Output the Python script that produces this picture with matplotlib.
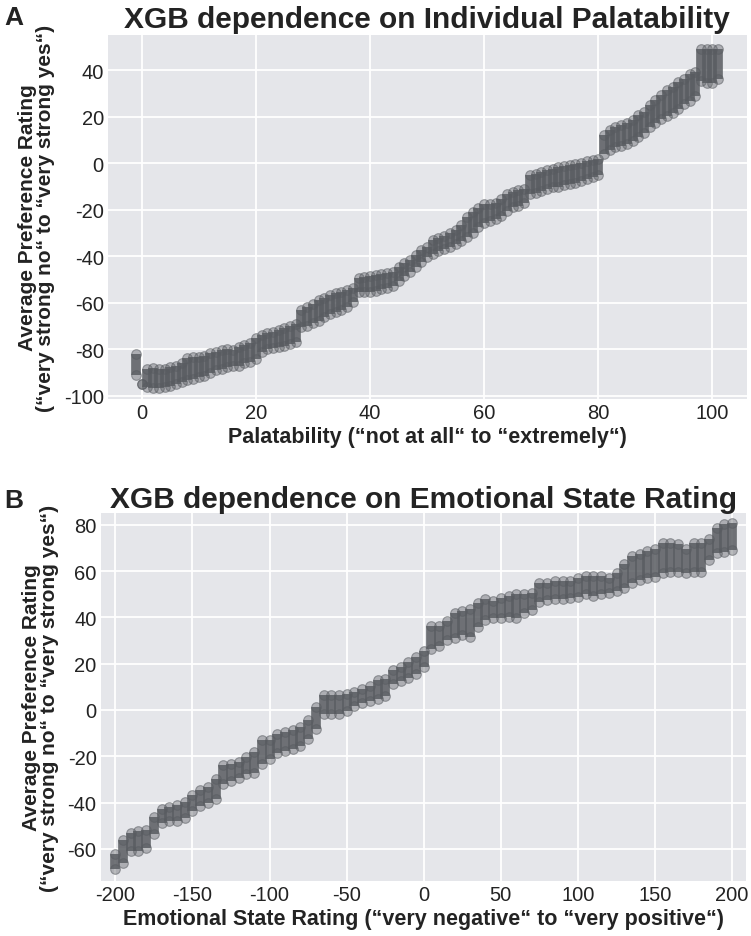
"""XGB partial dependence plots for palatability and emotional state rating."""
import matplotlib
matplotlib.use("Agg")
import matplotlib.pyplot as plt

plt.rcParams["font.family"] = ["Liberation Sans", "DejaVu Sans"]
plt.rcParams["axes.unicode_minus"] = False

# Panel A: one column of points per palatability value (upper / lower point centres)
palat_x = [-1, 0] + list(range(1, 102))
palat_hi = [-82.0, -95.0,
            -88.4, -88.1, -88.4, -88.4, -87.8, -87.0, -86.0, -83.8, -83.5, -83.5,
            -83.1, -81.7, -81.0, -80.3, -79.8, -80.3, -79.2, -78.1, -77.4, -75.2,
            -73.8, -73.1, -72.7, -71.7, -70.9, -70.2, -69.2, -63.1, -62.0, -60.6,
            -58.8, -57.8, -56.6, -55.9, -55.2, -54.5, -53.7, -49.4, -48.7, -48.3,
            -48.0, -47.7, -47.3, -46.6, -44.4, -43.0, -41.6, -39.4, -37.3, -35.8,
            -33.0, -32.3, -31.3, -30.2, -28.8, -26.6, -23.0, -20.9, -19.4, -17.3,
            -17.3, -17.0, -15.2, -13.3, -12.3, -11.6, -10.9, -5.1, -4.4, -3.7,
            -3.0, -2.3, -1.8, -1.3, -0.8, -0.4, 0.2, 1.0, 1.6, 2.0,
            12.0, 14.2, 15.4, 16.4, 17.4, 18.5, 20.7, 22.1, 25.0, 27.1,
            29.3, 31.4, 32.8, 35.0, 36.4, 38.6, 39.3, 49.3, 49.3, 49.3, 49.3]
palat_lo = [-91.0, -95.0,
            -96.3, -96.7, -96.7, -96.3, -95.9, -94.9, -94.2, -93.4, -93.0, -92.0,
            -91.3, -90.1, -89.1, -88.4, -87.7, -87.3, -87.0, -85.9, -85.3, -84.1,
            -81.3, -79.8, -79.5, -79.1, -78.4, -77.7, -77.0, -70.5, -69.8, -68.7,
            -67.7, -66.2, -64.8, -63.8, -62.9, -61.9, -59.8, -55.5, -55.5, -55.2,
            -54.8, -54.0, -53.7, -52.6, -50.5, -48.3, -46.9, -44.7, -42.6, -40.4,
            -39.1, -37.9, -36.9, -35.9, -34.8, -33.4, -31.9, -29.8, -27.6, -25.5,
            -24.8, -24.0, -22.6, -20.5, -19.0, -18.3, -16.9, -13.3, -12.6, -11.9,
            -11.2, -10.4, -10.1, -9.3, -9.0, -8.3, -7.6, -6.9, -6.1, -5.0,
            3.9, 5.6, 6.8, 7.5, 8.2, 9.6, 11.3, 13.2, 15.4, 17.5,
            18.9, 20.4, 21.8, 23.2, 25.4, 26.8, 29.0, 35.4, 34.7, 34.7, 36.1]

# Panel B: one column every 5 rating points
emo_x = list(range(-200, 201, 5))
emo_hi = [-62.0, -56.2, -53.0, -52.4, -51.6, -46.2, -42.6, -41.9, -41.1, -39.7,
          -36.8, -34.7, -33.2, -29.6, -23.9, -23.4, -22.4, -20.3, -18.1, -13.1,
          -13.1, -10.2, -9.5, -8.8, -7.3, -4.4, 1.3, 6.3, 6.3, 6.5,
          7.0, 7.8, 9.0, 10.5, 12.8, 13.5, 17.1, 18.6, 20.7, 22.9,
          25.5, 36.3, 36.3, 38.4, 42.0, 42.7, 43.5, 46.3, 47.8, 47.1,
          48.5, 49.2, 49.9, 50.2, 50.7, 55.0, 55.0, 55.7, 55.7, 55.7,
          57.1, 57.9, 57.9, 57.9, 57.1, 59.3, 62.9, 66.5, 67.2, 68.6,
          69.4, 72.2, 72.2, 71.5, 69.4, 72.2, 72.2, 73.7, 78.7, 80.2, 80.9]
emo_lo = [-68.8, -65.9, -61.0, -61.0, -59.4, -53.7, -48.6, -47.9, -47.9, -46.5,
          -43.6, -41.5, -40.0, -38.6, -32.1, -30.7, -29.2, -27.8, -27.1, -23.5,
          -21.3, -18.4, -17.7, -17.0, -15.6, -12.7, -8.4, -1.9, -1.9, -1.6,
          -0.4, 1.7, 3.2, 3.9, 4.6, 6.0, 11.1, 12.5, 13.9, 15.4,
          18.5, 26.4, 27.5, 30.2, 30.9, 32.4, 31.6, 36.0, 38.8, 39.6,
          39.6, 40.3, 39.6, 41.7, 43.2, 46.7, 47.5, 47.9, 47.9, 48.2,
          48.9, 49.9, 49.3, 49.9, 50.3, 51.4, 52.5, 54.7, 56.1, 56.8,
          57.5, 59.0, 59.7, 59.7, 59.0, 59.7, 59.7, 64.7, 67.6, 68.3, 69.1]

YLABEL = "Average Preference Rating\n(\u201cvery strong no\u201c to \u201cvery strong yes\u201c)"
DOT = (0.35, 0.36, 0.38)
BG = "#e5e6ea"
TXT = "#232323"


def draw_panel(ax, xs, hi, lo):
    ax.set_facecolor(BG)
    ax.grid(True, color="white", linewidth=1.3)
    ax.set_axisbelow(True)
    for side in ax.spines.values():
        side.set_visible(False)
    ax.tick_params(length=0, labelsize=14.5, labelcolor=TXT, pad=3)
    ax.vlines(xs, lo, hi, colors=[DOT], linewidth=7.0, alpha=0.85,
              capstyle="butt", zorder=3)
    for ys in (hi, lo):
        ax.scatter(xs, ys, s=48, facecolors=[DOT + (0.4,)],
                   edgecolors=[DOT + (0.55,)], linewidths=0.8, zorder=4)


fig = plt.figure(figsize=(7.51, 9.37), dpi=100)

ax1 = fig.add_axes([0.1438, 0.5731, 0.8505, 0.3885])
draw_panel(ax1, palat_x, palat_hi, palat_lo)
ax1.set_xlim(-5.9, 106)
ax1.set_ylim(-101.4, 55.2)
ax1.set_xticks(range(0, 101, 20))
ax1.set_yticks(range(-100, 41, 20))
ax1.set_title("XGB dependence on Individual Palatability", fontsize=21.5,
              fontweight="bold", color=TXT, pad=6)
ax1.set_xlabel("Palatability (\u201cnot at all\u201c to \u201cextremely\u201c)",
               fontsize=15.5, fontweight="bold", color=TXT, labelpad=3)
ax1.set_ylabel(YLABEL, fontsize=15, fontweight="bold", color=TXT, labelpad=6,
               linespacing=0.95)
fig.text(0.006, 0.973, "A", fontsize=19, fontweight="bold", color=TXT)

ax2 = fig.add_axes([0.1341, 0.0590, 0.8593, 0.3921])
draw_panel(ax2, emo_x, emo_hi, emo_lo)
ax2.set_xlim(-209.5, 209)
ax2.set_ylim(-73.7, 84.9)
ax2.set_xticks(range(-200, 201, 50))
ax2.set_yticks(range(-60, 81, 20))
ax2.set_title("XGB dependence on Emotional State Rating", fontsize=21.5,
              fontweight="bold", color=TXT, pad=4)
ax2.set_xlabel("Emotional State Rating (\u201cvery negative\u201c to \u201cvery positive\u201c)",
               fontsize=15.5, fontweight="bold", color=TXT, labelpad=3)
ax2.set_ylabel(YLABEL, fontsize=15, fontweight="bold", color=TXT, labelpad=6,
               linespacing=0.95)
fig.text(0.006, 0.458, "B", fontsize=19, fontweight="bold", color=TXT)

fig.savefig("out.png", dpi=100)
